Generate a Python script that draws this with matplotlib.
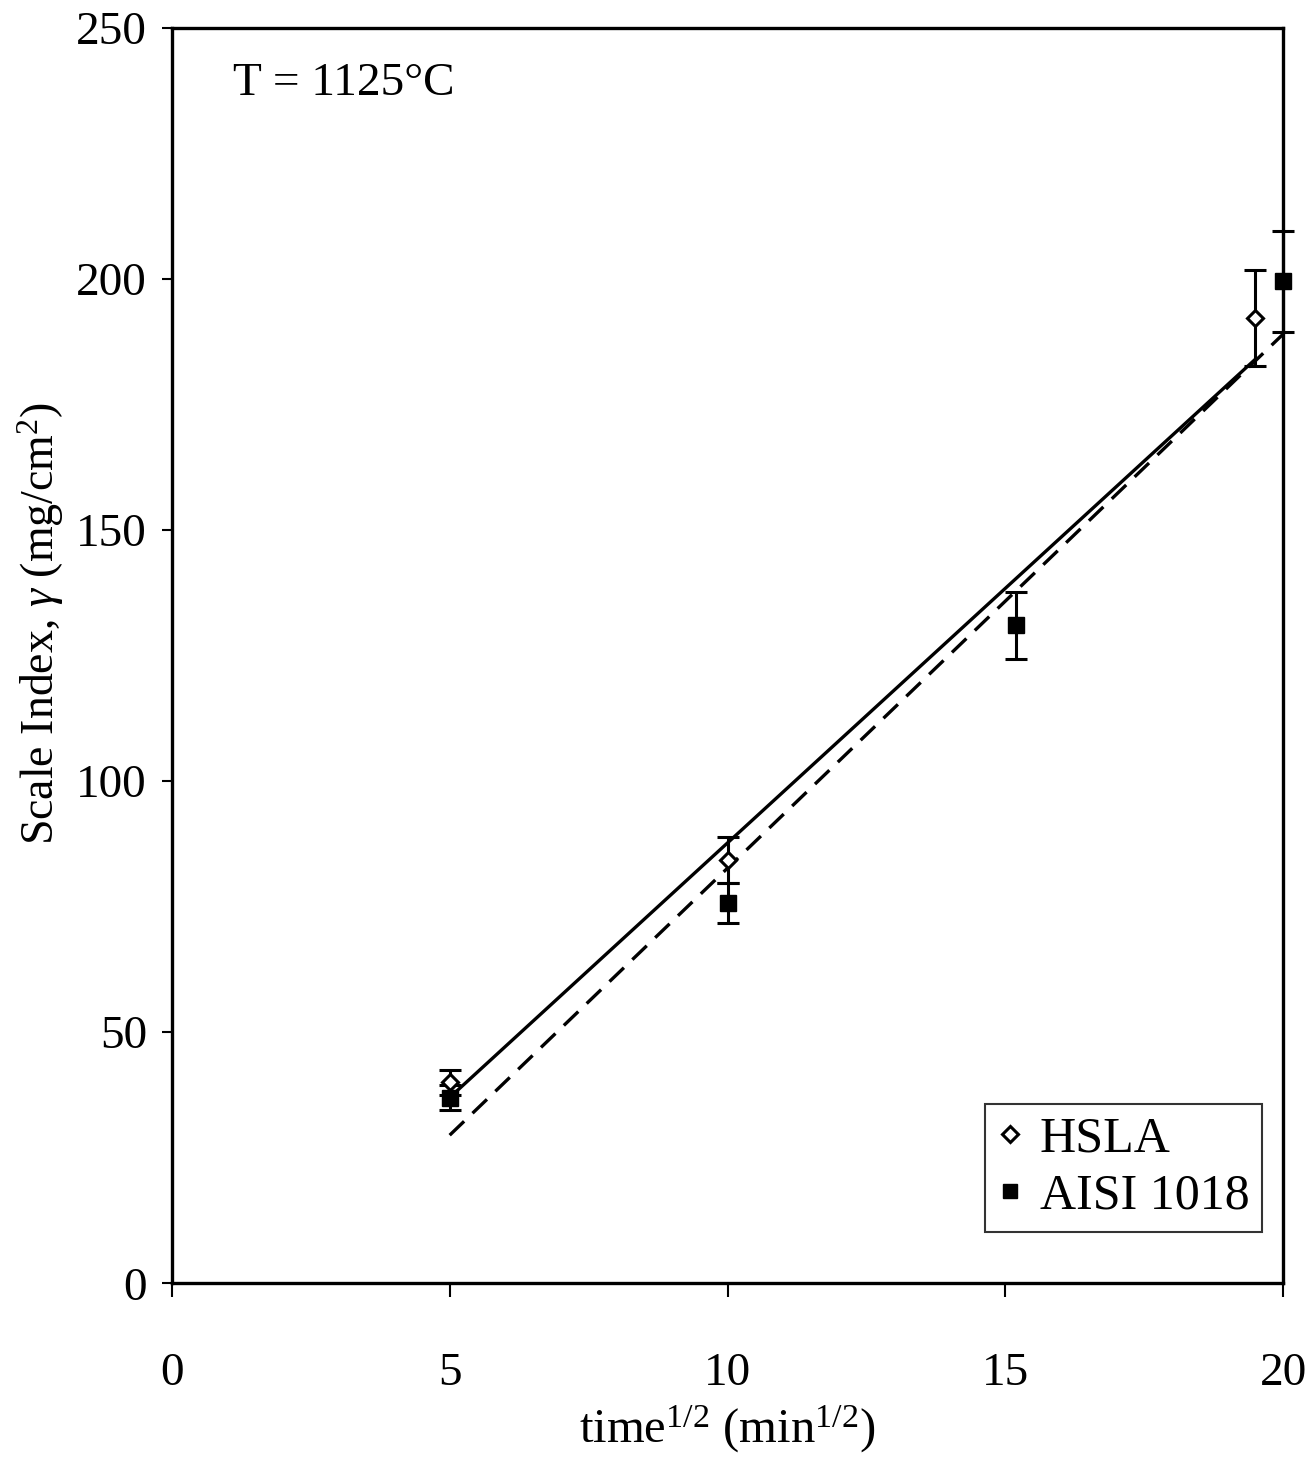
import numpy as np
import matplotlib
matplotlib.use("Agg")
import matplotlib.pyplot as plt
from matplotlib.lines import Line2D

plt.rcParams['font.family'] = ['Liberation Serif', 'DejaVu Serif']
plt.rcParams['mathtext.fontset'] = 'custom'
plt.rcParams['mathtext.rm'] = 'Liberation Serif'
plt.rcParams['mathtext.it'] = 'Liberation Serif:italic'

# measured scale index vs sqrt(time)
hsla_t = [5.0, 10.0, 19.5]
hsla_y = [40.0, 84.3, 192.2]
hsla_err = [2.5, 4.5, 9.6]

aisi_t = [5.0, 10.0, 15.2, 20.0]
aisi_y = [37.0, 75.7, 131.0, 199.5]
aisi_err = [2.5, 4.0, 6.7, 10.0]

# linear trend lines (end points)
hsla_fit_t = [5.0, 19.5]
hsla_fit_y = [37.0, 184.0]
aisi_fit_t = [5.0, 20.0]
aisi_fit_y = [29.5, 189.0]

xticks = [0, 5, 10, 15, 20]
yticks = [0, 50, 100, 150, 200, 250]

fig = plt.figure(figsize=(13.12, 14.60), dpi=100)
ax = fig.add_axes([0.131, 0.121, 0.847, 0.860])

ax.plot(hsla_fit_t, hsla_fit_y, color='black', lw=2.4, solid_capstyle='butt')
ax.plot(aisi_fit_t, aisi_fit_y, color='black', lw=2.4, ls=(0, (6, 3.5)))

ax.errorbar(aisi_t, aisi_y, yerr=aisi_err, fmt='s', color='black', ms=11,
            mfc='black', mec='black', elinewidth=2.2, capsize=8, capthick=2.2,
            clip_on=False, zorder=4)
ax.errorbar(hsla_t, hsla_y, yerr=hsla_err, fmt='D', color='black', ms=8,
            mfc='white', mec='black', mew=2.2, elinewidth=2.2, capsize=8,
            capthick=2.2, clip_on=False, zorder=5)

ax.set_xlim(0, 20)
ax.set_ylim(0, 250)
ax.set_xticks(xticks)
ax.set_yticks(yticks)
ax.tick_params(axis='x', direction='out', length=10, width=1.5, pad=40, labelsize=34)
ax.tick_params(axis='y', direction='out', length=7, width=1.5, pad=11, labelsize=34)
for s in ax.spines.values():
    s.set_linewidth(2.4)

ax.set_xlabel(r'time$^{1/2}$ (min$^{1/2}$)', fontsize=35, labelpad=6)
fig.text(0.031, 0.573, r'Scale Index, $\mathit{\gamma}$ (mg/cm$^{2}$)', fontsize=33,
         rotation=90, ha='center', va='center')

ax.text(0.055, 0.955, 'T = 1125°C', transform=ax.transAxes, fontsize=34,
        ha='left', va='center')

handles = [
    Line2D([], [], ls='none', marker='D', ms=8, mfc='white', mec='black', mew=2.2),
    Line2D([], [], ls='none', marker='s', ms=10, mfc='black', mec='black'),
]
leg = ax.legend(handles, ['HSLA', 'AISI 1018'], loc='lower right',
                bbox_to_anchor=(0.981, 0.041), borderaxespad=0,
                fontsize=36, frameon=True, fancybox=False, edgecolor='black',
                handlelength=0.5, handletextpad=0.35, borderpad=0.25,
                labelspacing=0.2)
leg.get_frame().set_linewidth(1.5)

fig.savefig('out.png', dpi=100, facecolor='white')
